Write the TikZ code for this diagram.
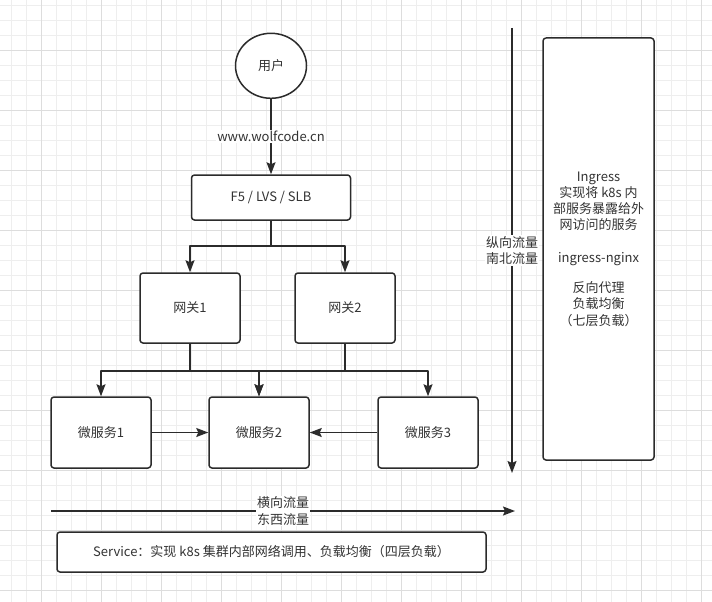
\documentclass[tikz,border=0pt]{standalone}
\usepackage{fontspec}
\setmainfont{Noto Sans CJK SC}
\usetikzlibrary{arrows.meta,shapes.geometric}
\definecolor{ink}{HTML}{2B2B2B}
\definecolor{txt}{HTML}{333333}
\definecolor{gridminor}{HTML}{EEEEEE}
\definecolor{gridmajor}{HTML}{DDDDDD}
\begin{document}
\begin{tikzpicture}[x=1pt,y=-1pt,>={Stealth[length=12pt,width=9pt,inset=2pt]},line join=round,
	font=\fontsize{13}{16.3}\selectfont,
	box/.style={draw=ink,line width=1.5pt,fill=white,rounded corners=3pt,text=txt,align=center,inner sep=0pt},
	user/.style={draw=ink,line width=1.5pt,fill=white,ellipse,text=txt,minimum width=71pt,minimum height=65pt,inner sep=0pt},
	link/.style={draw=ink,line width=1.5pt},
	tag/.style={fill=white,text=txt,align=center,inner sep=1pt}]
	\useasboundingbox (0,0) rectangle (712,602);
	\fill[white] (0,0) rectangle (712,602);
	\foreach \gx in {11.7,26.7,...,712} \draw[gridminor,line width=0.8pt] (\gx,0) -- (\gx,602);
	\foreach \gy in {5,20,...,602} \draw[gridminor,line width=0.8pt] (0,\gy) -- (712,\gy);
	\foreach \gx in {41.7,101.7,...,712} \draw[gridmajor,line width=0.8pt] (\gx,0) -- (\gx,602);
	\foreach \gy in {50,110,...,602} \draw[gridmajor,line width=0.8pt] (0,\gy) -- (712,\gy);
	\node[user] (user) at (271,65.8) {用户};
	\node[box,minimum width=159pt,minimum height=45pt] (lb) at (271,197.5) {F5 / LVS / SLB};
	\node[box,minimum width=100pt,minimum height=70pt] (gw1) at (190,308) {网关1};
	\node[box,minimum width=100pt,minimum height=70pt] (gw2) at (345,308) {网关2};
	\node[box,minimum width=100pt,minimum height=71pt] (ms1) at (101,432.5) {微服务1};
	\node[box,minimum width=100pt,minimum height=71pt] (ms2) at (259,432.5) {微服务2};
	\node[box,minimum width=100pt,minimum height=71pt] (ms3) at (428,432.5) {微服务3};
	\node[box,minimum width=111pt,minimum height=422pt] (ingress) at (598.5,249) {Ingress\\实现将 k8s 内\\部服务暴露给外\\网访问的服务\\[16pt]ingress-nginx\\[14pt]反向代理\\负载均衡\\（七层负载）};
	\node[box,minimum width=429pt,minimum height=40pt] (svc) at (271.5,552) {Service：实现 k8s 集群内部网络调用、负载均衡（四层负载）};
	\coordinate (nsA) at (512,28);
	\coordinate (nsB) at (512,473);
	\coordinate (ewA) at (51,511);
	\coordinate (ewB) at (515,511);
	\draw[link,->] (user) -- node[tag]{www.wolfcode.cn} (lb);
	\foreach \g in {gw1,gw2} \draw[link,->] (lb.south) -- ++(0,25) -| (\g.north);
	\foreach \g/\m in {gw1/ms1,gw1/ms2,gw2/ms2,gw2/ms3} \draw[link,->] (\g.south) -- ++(0,27) -| (\m.north);
	\draw[link,->] (ms1) -- (ms2);
	\draw[link,->] (ms3) -- (ms2);
	\draw[link,->] (nsA) -- node[tag]{纵向流量\\南北流量} (nsB);
	\draw[link,->] (ewA) -- node[tag]{横向流量\\东西流量} (ewB);
\end{tikzpicture}
\end{document}
